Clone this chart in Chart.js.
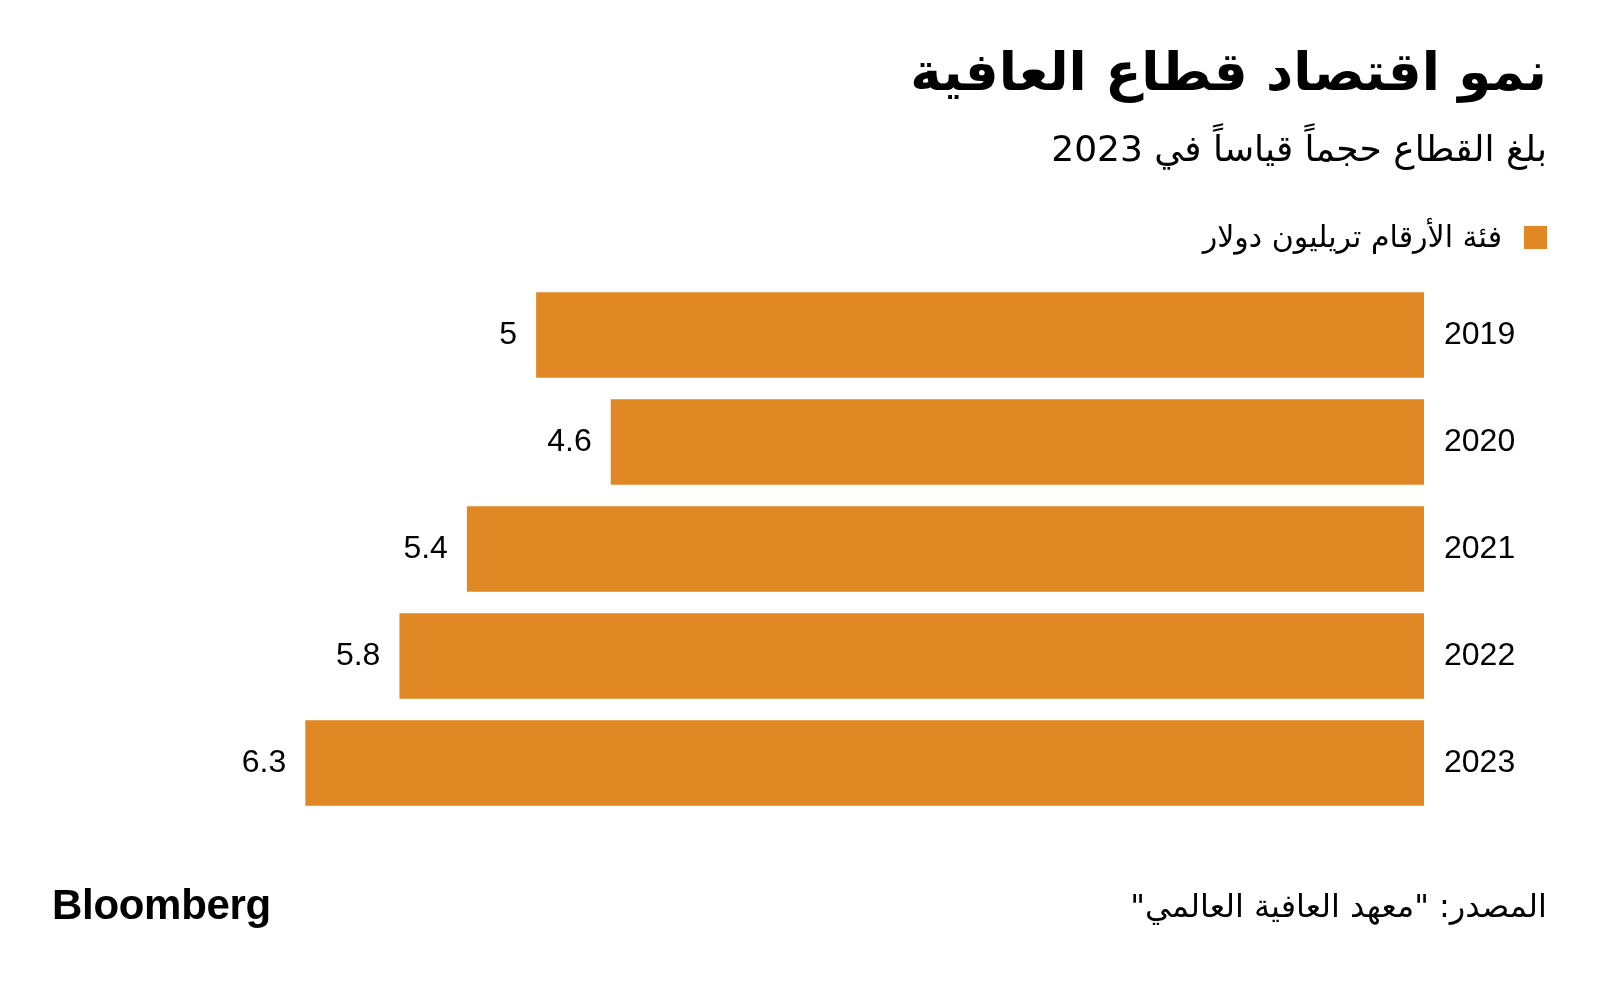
<!DOCTYPE html>
<html lang="ar">
<head>
<meta charset="UTF-8">
<title>نمو اقتصاد قطاع العافية</title>
<script src="https://cdn.jsdelivr.net/npm/chart.js"></script>
<style>
  body {
    margin: 0;
    width: 1600px;
    height: 983px;
    background: #fff;
    position: relative;
    overflow: hidden;
    font-family: "DejaVu Sans", "Noto Sans", sans-serif;
    color: #000;
  }
  .txt {
    position: absolute;
    right: 53px;
    direction: rtl;
    white-space: nowrap;
  }
  .title {
    top: 40px;
    font-size: 53px;
    line-height: 64px;
    font-weight: bold;
  }
  .subtitle {
    top: 128px;
    font-size: 36px;
    line-height: 42px;
  }
  .legend {
    top: 220px;
    font-size: 30px;
    line-height: 34px;
    display: flex;
    align-items: center;
  }
  .legend .swatch {
    width: 23px;
    height: 23px;
    background: #e08823;
    margin-left: 22px;
  }
  .source {
    top: 886px;
    font-size: 32px;
    line-height: 40px;
  }
  .logo {
    position: absolute;
    left: 52px;
    top: 883px;
    font-family: "Liberation Sans", Arial, sans-serif;
    font-weight: bold;
    font-size: 42px;
    line-height: 44px;
    letter-spacing: -0.3px;
  }
  #chart {
    position: absolute;
    left: 0;
    top: 0;
  }
</style>
</head>
<body>
<canvas id="chart" width="1600" height="983"></canvas>
<div class="txt title">نمو اقتصاد قطاع العافية</div>
<div class="txt subtitle">بلغ القطاع حجماً قياساً في 2023</div>
<div class="txt legend"><span class="swatch"></span><span>فئة الأرقام تريليون دولار</span></div>
<div class="txt source">المصدر: "معهد العافية العالمي"</div>
<div class="logo">Bloomberg</div>

<script>
const years = ['2019', '2020', '2021', '2022', '2023'];
// bar lengths as measured on the chart (trillion dollars)
const values = [5.0, 4.58, 5.39, 5.77, 6.3];
// labels as printed next to the bars
const valueLabels = ['5', '4.6', '5.4', '5.8', '6.3'];

const barColor = '#e08823';
const labelFont = '32px "Liberation Sans", Arial, sans-serif';

// value labels to the left of each bar end
const valueLabelPlugin = {
  id: 'valueLabels',
  afterDatasetsDraw(chart) {
    const ctx = chart.ctx;
    const meta = chart.getDatasetMeta(0);
    ctx.save();
    ctx.font = labelFont;
    ctx.fillStyle = '#000';
    ctx.textAlign = 'right';
    ctx.textBaseline = 'middle';
    meta.data.forEach((bar, i) => {
      ctx.fillText(valueLabels[i], bar.x - 19, bar.y);
    });
    ctx.restore();
  }
};

new Chart(document.getElementById('chart'), {
  type: 'bar',
  data: {
    labels: years,
    datasets: [{
      data: values,
      backgroundColor: barColor,
      borderWidth: 0,
      barPercentage: 0.8,
      categoryPercentage: 1.0
    }]
  },
  options: {
    indexAxis: 'y',
    responsive: false,
    animation: false,
    devicePixelRatio: 1,
    layout: {
      padding: { top: 281.5, bottom: 166.5, left: 181, right: 0 }
    },
    plugins: {
      legend: { display: false },
      tooltip: { enabled: false }
    },
    scales: {
      x: {
        display: false,
        reverse: true,
        min: 0,
        max: 7
      },
      y: {
        position: 'right',
        grid: { display: false, drawTicks: false },
        border: { display: false },
        ticks: {
          padding: 20,
          color: '#000',
          font: { family: '"Liberation Sans", Arial, sans-serif', size: 32 }
        },
        afterFit(scale) { scale.width = 176; }
      }
    }
  },
  plugins: [valueLabelPlugin]
});
</script>
</body>
</html>
